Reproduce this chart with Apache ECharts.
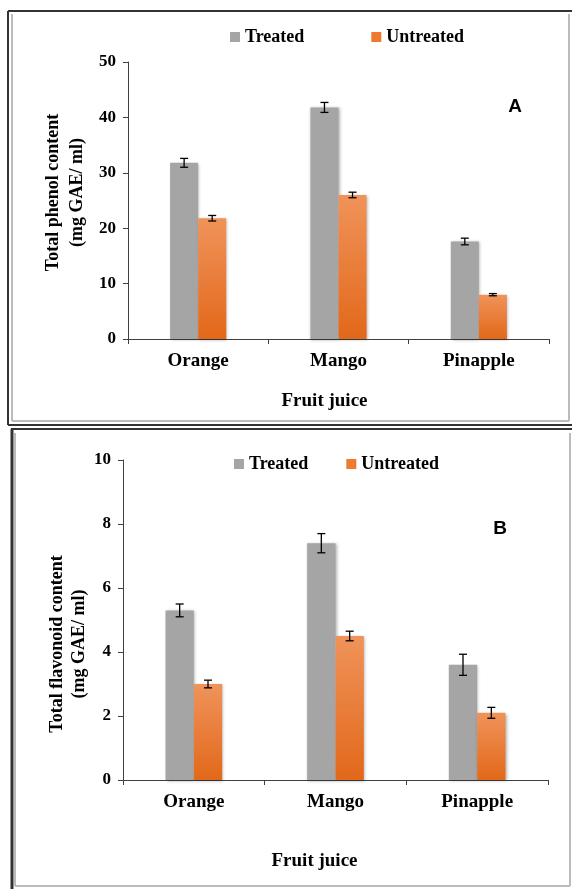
<!DOCTYPE html>
<html>
<head>
<meta charset="utf-8">
<script src="https://cdn.jsdelivr.net/npm/echarts@6/dist/echarts.min.js"></script>
<style>
  html, body { margin: 0; padding: 0; background: #fff; }
  #main { width: 572px; height: 889px; }
</style>
</head>
<body>
<div id="main"></div>
<script>
// fruit juices
var categories = ['Orange', 'Mango', 'Pinapple'];
var seriesNames = ['Treated', 'Untreated'];

// A: total phenol content (mg GAE/ ml)
var phenolTreated = [31.8, 41.8, 17.6];
var phenolUntreated = [21.8, 26.0, 8.0];
var phenolTreatedErr = [0.8, 0.9, 0.6];
var phenolUntreatedErr = [0.5, 0.5, 0.2];
var phenolTicks = { min: 0, max: 50, interval: 10 };

// B: total flavonoid content (mg GAE/ ml)
var flavTreated = [5.3, 7.4, 3.6];
var flavUntreated = [3.0, 4.5, 2.1];
var flavTreatedErr = [0.2, 0.3, 0.33];
var flavUntreatedErr = [0.12, 0.15, 0.17];
var flavTicks = { min: 0, max: 10, interval: 2 };

var serif = 'Liberation Serif, Times New Roman, serif';
var grayColor = '#a5a5a5';
var orangeGrad = new echarts.graphic.LinearGradient(0, 0, 0, 1, [
    { offset: 0, color: '#f0935a' },
    { offset: 1, color: '#e2681a' }
]);

var myChart = echarts.init(document.getElementById('main'));

function errBars(vals, errs) {
    var out = [];
    for (var i = 0; i < vals.length; i++) {
        out.push([i, vals[i], errs[i]]);
    }
    return out;
}

// side: -1 = left bar (Treated), 1 = right bar (Untreated)
function errRender(side) {
    return function (params, api) {
        var i = api.value(0);
        var v = api.value(1);
        var e = api.value(2);
        var band = api.size([1, 0])[0];
        var hi = api.coord([i, v + e]);
        var lo = api.coord([i, v - e]);
        var x = hi[0] + side * band * 0.1;
        var cap = 4;
        var st = { stroke: '#000', lineWidth: 1.3 };
        return {
            type: 'group',
            children: [
                { type: 'line', shape: { x1: x, y1: hi[1], x2: x, y2: lo[1] }, style: st },
                { type: 'line', shape: { x1: x - cap, y1: hi[1], x2: x + cap, y2: hi[1] }, style: st },
                { type: 'line', shape: { x1: x - cap, y1: lo[1], x2: x + cap, y2: lo[1] }, style: st }
            ]
        };
    };
}

function xAxisFor(idx, gap, pad) {
    return {
        type: 'category',
        gridIndex: idx,
        data: categories,
        name: 'Fruit juice',
        nameLocation: 'middle',
        nameGap: gap,
        nameMoveOverlap: false,
        nameTextStyle: { fontFamily: serif, fontWeight: 'bold', fontSize: 19, color: '#000', padding: [0, pad, 0, 0] },
        axisLine: { lineStyle: { color: '#404040', width: 1 } },
        axisTick: { show: true, length: 5, alignWithLabel: false, lineStyle: { color: '#404040' } },
        axisLabel: { margin: 13, fontFamily: serif, fontWeight: 'bold', fontSize: 19, color: '#000' },
        splitLine: { show: false }
    };
}

function yAxisFor(idx, ticks, title, gap, lh, pad) {
    return {
        type: 'value',
        gridIndex: idx,
        min: ticks.min,
        max: ticks.max,
        interval: ticks.interval,
        name: title,
        nameLocation: 'middle',
        nameRotate: 90,
        nameGap: gap,
        nameMoveOverlap: false,
        nameTextStyle: { fontFamily: serif, fontWeight: 'bold', fontSize: 18, lineHeight: lh, color: '#000', padding: pad },
        axisLine: { show: true, lineStyle: { color: '#404040', width: 1 } },
        axisTick: { show: true, length: 5, lineStyle: { color: '#404040' } },
        axisLabel: { margin: 12, fontFamily: serif, fontWeight: 'bold', fontSize: 17, color: '#000' },
        splitLine: { show: false }
    };
}

function barSeries(name, idx, data, color) {
    return {
        name: name,
        type: 'bar',
        xAxisIndex: idx,
        yAxisIndex: idx,
        data: data,
        barGap: '0%',
        barCategoryGap: '60%',
        itemStyle: {
            color: color,
            shadowBlur: 3,
            shadowColor: 'rgba(0,0,0,0.3)',
            shadowOffsetX: 1,
            shadowOffsetY: 1
        }
    };
}

function errSeries(idx, vals, errs, side) {
    return {
        type: 'custom',
        xAxisIndex: idx,
        yAxisIndex: idx,
        renderItem: errRender(side),
        data: errBars(vals, errs),
        encode: { x: 0, y: 1 },
        z: 10,
        silent: true
    };
}

function legendFor(left, top, gap) {
    return {
        left: left,
        top: top,
        padding: 0,
        icon: 'rect',
        itemWidth: 10,
        itemHeight: 10,
        itemGap: gap,
        selectedMode: false,
        textStyle: { fontFamily: serif, fontWeight: 'bold', fontSize: 18, color: '#000' },
        data: [
            { name: 'Treated', itemStyle: { color: grayColor } },
            { name: 'Untreated', itemStyle: { color: '#ee7a30' } }
        ]
    };
}

function line(x1, y1, x2, y2, color, w) {
    return { type: 'line', shape: { x1: x1, y1: y1, x2: x2, y2: y2 }, style: { stroke: color, lineWidth: w }, silent: true };
}

var option = {
    backgroundColor: '#fff',
    animation: false,
    grid: [
        { left: 128, right: 23, top: 62, bottom: 550 },
        { left: 123, right: 24, top: 460, bottom: 109 }
    ],
    legend: [
        legendFor(230, 28, 67),
        legendFor(234, 455, 38)
    ],
    xAxis: [
        xAxisFor(0, 53, 28),
        xAxisFor(1, 72, 42)
    ],
    yAxis: [
        yAxisFor(0, phenolTicks, 'Total phenol content\n(mg GAE/ ml)', 39, 24, [0, 0, 0, 16]),
        yAxisFor(1, flavTicks, 'Total flavonoid content\n(mg GAE/ ml)', 33, 22, [0, 48, 0, 0])
    ],
    series: [
        barSeries('Treated', 0, phenolTreated, grayColor),
        barSeries('Untreated', 0, phenolUntreated, orangeGrad),
        errSeries(0, phenolTreated, phenolTreatedErr, -1),
        errSeries(0, phenolUntreated, phenolUntreatedErr, 1),
        barSeries('Treated', 1, flavTreated, grayColor),
        barSeries('Untreated', 1, flavUntreated, orangeGrad),
        errSeries(1, flavTreated, flavTreatedErr, -1),
        errSeries(1, flavUntreated, flavUntreatedErr, 1)
    ],
    graphic: [
        // panel A frame
        line(8, 11, 572, 11, '#333', 2),
        line(8, 11, 8, 425, '#333', 2),
        line(8, 425, 572, 425, '#333', 2),
        line(12, 14, 12, 421, '#bbb', 2),
        line(12, 421, 569, 421, '#bbb', 2),
        line(569, 14, 569, 421, '#bbb', 2),
        // panel B frame
        line(11, 429, 572, 429, '#333', 2),
        line(12, 429, 12, 889, '#333', 3),
        line(15, 433, 15, 886, '#bbb', 2),
        line(15, 886, 570, 886, '#bbb', 2),
        line(570, 433, 570, 886, '#bbb', 2),
        // panel letters
        { type: 'text', x: 515, y: 107, style: { text: 'A', fontFamily: 'Liberation Sans, Arial, sans-serif', fontWeight: 'bold', fontSize: 19, fill: '#000', align: 'center', verticalAlign: 'middle' } },
        { type: 'text', x: 500, y: 529, style: { text: 'B', fontFamily: 'Liberation Sans, Arial, sans-serif', fontWeight: 'bold', fontSize: 19, fill: '#000', align: 'center', verticalAlign: 'middle' } }
    ]
};

myChart.setOption(option);
</script>
</body>
</html>
